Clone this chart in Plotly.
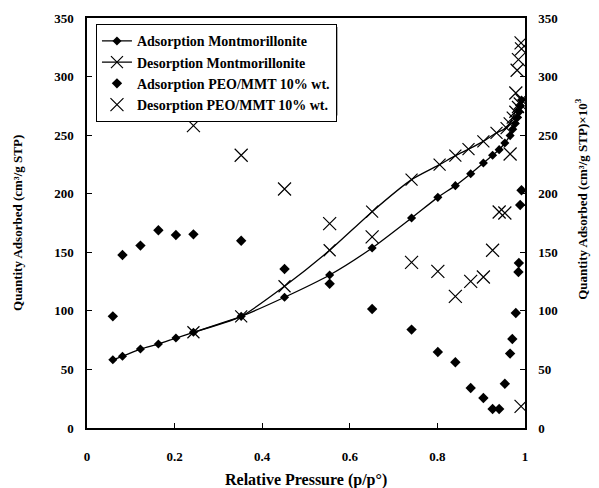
import plotly.graph_objects as go

# Adsorption Montmorillonite (left axis)
ads_mmt_x = [0.059, 0.081, 0.122, 0.163, 0.203, 0.243, 0.352, 0.451, 0.554, 0.651, 0.741,
             0.801, 0.841, 0.876, 0.905, 0.926, 0.941, 0.954, 0.966, 0.972, 0.978, 0.983, 0.987, 0.990, 0.992]
ads_mmt_y = [58.3, 61.2, 67.4, 71.7, 76.8, 81.7, 95.3, 111.6, 130.6, 153.7, 179.3,
             196.9, 206.9, 217.1, 226.2, 232.8, 237.6, 243.3, 249.6, 255.0, 260.0, 265.0, 270.0, 275.0, 280.0]

# Desorption Montmorillonite (left axis)
des_mmt_x = [0.992, 0.988, 0.984, 0.978, 0.972, 0.965, 0.958, 0.935, 0.905, 0.871, 0.841,
             0.805, 0.741, 0.651, 0.554, 0.451, 0.352, 0.243]
des_mmt_y = [280.0, 277.0, 274.0, 270.0, 265.0, 260.0, 256.0, 252.0, 244.7, 238.0, 232.5,
             224.8, 212.0, 184.7, 151.7, 121.0, 95.3, 81.7]

# Adsorption PEO/MMT 10% wt. (right axis, x10^3)
ads_peo_x = [0.059, 0.081, 0.122, 0.163, 0.203, 0.243, 0.352, 0.451, 0.554, 0.651, 0.741,
             0.801, 0.841, 0.876, 0.905, 0.926, 0.941, 0.954, 0.966, 0.971, 0.979, 0.985, 0.986, 0.989, 0.992]
ads_peo_y = [95.3, 147.7, 155.7, 168.8, 164.8, 165.3, 159.9, 135.7, 123.2, 101.6, 84.0,
             64.9, 56.1, 34.1, 25.6, 16.2, 16.2, 37.8, 63.5, 76.0, 98.2, 133.2, 140.9, 190.4, 202.9]

# Desorption PEO/MMT 10% wt. (right axis, x10^3)
des_peo_x = [0.243, 0.352, 0.451, 0.554, 0.651, 0.741, 0.801, 0.841, 0.876, 0.905, 0.926,
             0.941, 0.954, 0.966, 0.979, 0.982, 0.985, 0.991, 0.992, 0.991]
des_peo_y = [258.1, 232.8, 204.0, 174.4, 163.1, 141.4, 133.7, 112.4, 125.2, 128.9, 151.7,
             184.4, 183.5, 233.9, 286.0, 305.4, 314.5, 328.7, 323.6, 18.5]

x_ticks = [0, 0.2, 0.4, 0.6, 0.8, 1]
x_tick_labels = ["0", "0.2", "0.4", "0.6", "0.8", "1"]

FONT = "Liberation Serif"

fig = go.Figure()
fig.add_trace(go.Scatter(
    x=ads_mmt_x, y=ads_mmt_y, mode="lines+markers", name="Adsorption Montmorillonite",
    line=dict(color="black", width=1.3, shape="spline", smoothing=0.6),
    marker=dict(symbol="diamond", size=7, color="black")))
fig.add_trace(go.Scatter(
    x=des_mmt_x, y=des_mmt_y, mode="lines+markers", name="Desorption Montmorillonite",
    line=dict(color="black", width=1.3, shape="spline", smoothing=0.6),
    marker=dict(symbol="x-thin-open", size=12, color="black", line=dict(width=1.2, color="black"))))
fig.add_trace(go.Scatter(
    x=ads_peo_x, y=ads_peo_y, mode="markers", name="Adsorption PEO/MMT 10% wt.", yaxis="y2",
    marker=dict(symbol="diamond", size=8, color="black")))
fig.add_trace(go.Scatter(
    x=des_peo_x, y=des_peo_y, mode="markers", name="Desorption PEO/MMT 10% wt.", yaxis="y2",
    marker=dict(symbol="x-thin-open", size=13, color="black", line=dict(width=1.2, color="black"))))

axis_common = dict(showline=True, linecolor="black", linewidth=1.5, ticks="inside",
                   ticklen=5, tickcolor="black", showgrid=False, zeroline=False,
                   automargin=False,
                   tickfont=dict(family=FONT, size=13, color="black", weight="bold"))

title_font = dict(family=FONT, size=13, color="black", weight="bold")

fig.update_layout(
    width=599, height=488,
    margin=dict(l=79, r=82, t=10, b=68),
    paper_bgcolor="white", plot_bgcolor="white",
    font=dict(family=FONT, color="black", weight="bold"),
    showlegend=True,
    legend=dict(x=0.02, y=0.985, xanchor="left", yanchor="top",
                bgcolor="white", bordercolor="black", borderwidth=1.2,
                font=dict(family=FONT, size=14, color="black", weight="bold"),
                tracegroupgap=0, itemwidth=30),
    xaxis=dict(range=[0, 1], tickvals=x_ticks, ticktext=x_tick_labels, mirror=True,
               ticklabelstandoff=16, **axis_common),
    yaxis=dict(range=[0, 350], dtick=50, ticklabelstandoff=9, **axis_common),
    yaxis2=dict(range=[0, 350], dtick=50, overlaying="y", side="right",
                ticklabelstandoff=9, **axis_common),
    shapes=[
        # drop shadow of the legend box
        dict(type="rect", xref="paper", yref="paper", x0=0.0274, x1=0.5715, y0=0.7625, y1=0.978,
             fillcolor="black", line=dict(width=0), layer="above"),
    ],
    annotations=[
        dict(text="Relative Pressure (p/p°)", xref="paper", yref="paper", x=0.5, y=-0.127,
             xanchor="center", yanchor="middle", showarrow=False,
             font=dict(family=FONT, size=16, color="black", weight="bold")),
        dict(text="Quantity Adsorbed (cm³/g STP)", xref="paper", yref="paper", x=-0.16, y=0.5,
             xanchor="center", yanchor="middle", showarrow=False, textangle=-90, font=title_font),
        dict(text="Quantity Adsorbed (cm³/g STP)×10<sup>3</sup>", xref="paper", yref="paper",
             x=1.128, y=0.559, xanchor="center", yanchor="middle", showarrow=False,
             textangle=-90, font=title_font),
    ],
)

fig.write_html("out.html")
